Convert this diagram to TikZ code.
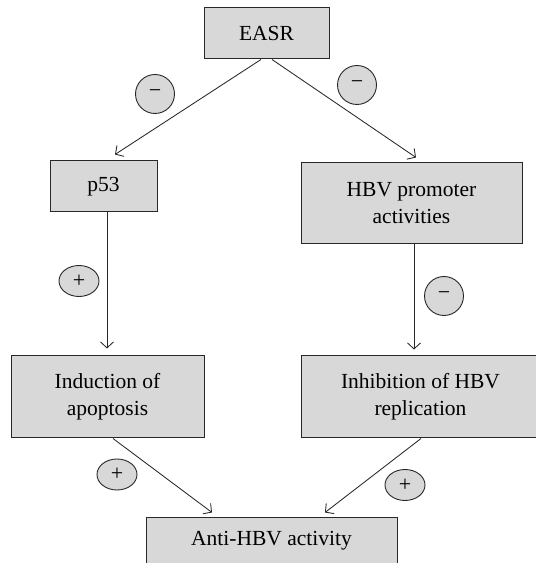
\documentclass[tikz,border=0pt]{standalone}
\usepackage{fontspec}
\setmainfont{Liberation Serif}
\usetikzlibrary{arrows.meta,shapes.geometric}
\definecolor{boxgrey}{RGB}{216,216,216}
\definecolor{edgegrey}{RGB}{40,40,40}
\begin{document}
\begin{tikzpicture}[x=1pt,y=1pt,
  box/.style={draw=edgegrey, fill=boxgrey, line width=1pt, inner sep=0pt,
    align=center, font=\fontsize{21.5}{27}\selectfont},
  signc/.style={draw=edgegrey, fill=boxgrey, line width=0.9pt, circle, inner sep=0pt,
    minimum size=39pt, font=\fontsize{22}{22}\selectfont},
  signe/.style={draw=edgegrey, fill=boxgrey, line width=0.9pt, ellipse, inner sep=0pt,
    minimum width=40pt, minimum height=31pt, font=\fontsize{22}{22}\selectfont},
  arr/.style={draw=edgegrey, line width=0.85pt, -{Straight Barb[length=6pt,width=13pt]}}
]
\useasboundingbox[fill=white] (0,0) rectangle (536,563);

\node[box, minimum width=125pt, minimum height=51pt] (easr) at (266.5,529.5) {EASR};
\node[box, minimum width=107pt, minimum height=51pt] (p53) at (103.5,376.5) {p53};
\node[box, minimum width=221pt, minimum height=81pt] (hbv) at (411.5,359.5) {HBV promoter\\activities};
\node[box, minimum width=193pt, minimum height=82pt] (ind) at (107.5,166) {Induction of\\apoptosis};
\node[box, minimum width=239pt, minimum height=82pt] (inh) at (420.5,166) {Inhibition of HBV\\replication};
\node[box, minimum width=251pt, text height=28pt, text depth=30pt, anchor=base] (anti) at (271.5,17) {Anti-HBV activity};

\node[signc] (m1) at (155,469) {−};
\node[signc] (m2) at (357,478) {−};
\node[signe] (p1) at (79,282) {+};
\node[signc] (m3) at (444,267) {−};
\node[signe] (p2) at (117,88.5) {+};
\node[signe] (p3) at (405,78) {+};

\draw[arr] ([xshift=-5.5pt]easr.south) -- ([shift={(11.5pt,6pt)}]p53.north);
\draw[arr] ([xshift=5.5pt]easr.south) -- ([shift={(4.5pt,5pt)}]hbv.north);
\draw[arr] ([xshift=3.5pt]p53.south) -- ([shift={(-0.5pt,7pt)}]ind.north);
\draw[arr] ([xshift=2.5pt]hbv.south) -- ([shift={(-6.5pt,6pt)}]inh.north);
\draw[arr] ([xshift=5.5pt]ind.south) -- ([shift={(-59.5pt,5pt)}]anti.north);
\draw[arr] ([xshift=0.5pt]inh.south) -- ([shift={(53.5pt,5pt)}]anti.north);
\end{tikzpicture}
\end{document}
